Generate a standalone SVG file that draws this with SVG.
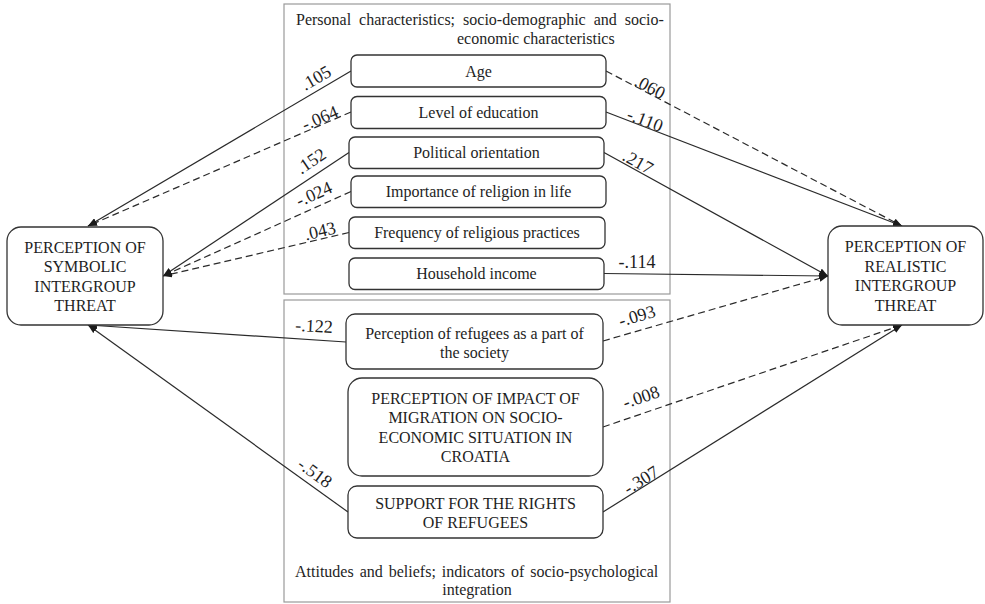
<svg xmlns="http://www.w3.org/2000/svg" width="985" height="604" viewBox="0 0 985 604">
<style>
text{font-family:"Liberation Serif","Times New Roman",serif;fill:#1e1e1e}
.t{font-size:16px;text-anchor:middle}
.h{font-size:16px}
.lb{font-size:18px;text-anchor:middle}
.box{fill:#fff;stroke:#333;stroke-width:1.3}
.cont{fill:#fff;stroke:#9a9a9a;stroke-width:1.2}
.c{fill:none;stroke:#2a2a2a;stroke-width:1.2;marker-end:url(#ah)}
.d{stroke-dasharray:7 4}
</style>
<defs>
<marker id="ah" markerUnits="userSpaceOnUse" markerWidth="9" markerHeight="7" refX="9" refY="3.5" orient="auto">
<path d="M0,0 L9,3.5 L0,7 z" fill="#1a1a1a"/>
</marker>
</defs>
<rect width="985" height="604" fill="#fff"/>

<g id="group-personal">
<rect class="cont" x="284" y="4" width="386" height="290"/>
<text class="h" x="296" y="25" word-spacing="4">Personal characteristics; socio-demographic and socio-</text>
<text class="h" x="457" y="44">economic characteristics</text>
</g>
<g id="group-attitudes">
<rect class="cont" x="284" y="300" width="386" height="302"/>
<text class="h" x="295" y="577" word-spacing="2">Attitudes and beliefs; indicators of socio-psychological</text>
<text class="t" x="477" y="595">integration</text>
</g>

<g id="connectors">
<line class="c" x1="351" y1="71" x2="88" y2="226"/>
<line class="c d" x1="351" y1="112" x2="88" y2="226"/>
<line class="c" x1="349" y1="152.5" x2="163" y2="276"/>
<line class="c d" x1="351" y1="191.5" x2="163" y2="276"/>
<line class="c d" x1="349" y1="232.5" x2="163" y2="276"/>
<line class="c" x1="346" y1="342" x2="88" y2="325"/>
<line class="c" x1="348" y1="512" x2="88" y2="325"/>
<line class="c d" x1="606" y1="71" x2="902" y2="226"/>
<line class="c" x1="606" y1="112" x2="902" y2="226"/>
<line class="c" x1="604" y1="152.5" x2="828" y2="276"/>
<line class="c" x1="604" y1="273.5" x2="828" y2="276"/>
<line class="c d" x1="603" y1="341" x2="828" y2="276"/>
<line class="c d" x1="603" y1="427" x2="902" y2="325"/>
<line class="c" x1="603" y1="512" x2="902" y2="325"/>
<g id="labels">
<text class="lb" transform="translate(316,78) rotate(-30)" dy="6">.105</text>
<text class="lb" transform="translate(320,118) rotate(-23)" dy="6">-.064</text>
<text class="lb" transform="translate(311,161) rotate(-34)" dy="6">.152</text>
<text class="lb" transform="translate(314,194) rotate(-24)" dy="6">-.024</text>
<text class="lb" transform="translate(320,231) rotate(-13)" dy="6">.043</text>
<text class="lb" transform="translate(314,326) rotate(3)" dy="6">-.122</text>
<text class="lb" transform="translate(315,473) rotate(36)" dy="6">-.518</text>
<text class="lb" transform="translate(650,87) rotate(28)" dy="6">.060</text>
<text class="lb" transform="translate(645,120) rotate(21)" dy="6">-.110</text>
<text class="lb" transform="translate(638,162) rotate(29)" dy="6">.217</text>
<text class="lb" transform="translate(637,262)" dy="6">-.114</text>
<text class="lb" transform="translate(637,316) rotate(-16)" dy="6">-.093</text>
<text class="lb" transform="translate(641,397) rotate(-19)" dy="6">-.008</text>
<text class="lb" transform="translate(641,480) rotate(-32)" dy="6">-.307</text>
</g>
</g>

<g id="node-age"><rect class="box" x="351" y="55" width="255" height="32" rx="6"/><text class="t" x="478.5" y="76.5">Age</text></g>
<g id="node-education"><rect class="box" x="351" y="96.5" width="255" height="32" rx="6"/><text class="t" x="478.5" y="118">Level of education</text></g>
<g id="node-political"><rect class="box" x="349" y="137" width="255" height="31.5" rx="6"/><text class="t" x="476.5" y="158">Political orientation</text></g>
<g id="node-religion-importance"><rect class="box" x="351" y="176" width="255" height="31.5" rx="6"/><text class="t" x="478.5" y="197">Importance of religion in life</text></g>
<g id="node-religion-frequency"><rect class="box" x="349" y="217" width="256" height="31.5" rx="6"/><text class="t" x="477" y="238">Frequency of religious practices</text></g>
<g id="node-income"><rect class="box" x="349" y="258" width="255" height="31.5" rx="6"/><text class="t" x="476.5" y="279">Household income</text></g>

<g id="node-refugees-society"><rect class="box" x="346" y="314" width="257" height="55" rx="9"/>
<text class="t" x="474.5" y="338.5">Perception of refugees as a part of</text>
<text class="t" x="474.5" y="358">the society</text></g>
<g id="node-impact"><rect class="box" x="348" y="378" width="255" height="98" rx="14"/>
<text class="t" x="475.5" y="403.5">PERCEPTION OF IMPACT OF</text>
<text class="t" x="475.5" y="423">MIGRATION ON SOCIO-</text>
<text class="t" x="475.5" y="442.5">ECONOMIC SITUATION IN</text>
<text class="t" x="475.5" y="462">CROATIA</text></g>
<g id="node-support"><rect class="box" x="348" y="486" width="255" height="52" rx="9"/>
<text class="t" x="475.5" y="508.5">SUPPORT FOR THE RIGHTS</text>
<text class="t" x="475.5" y="528">OF REFUGEES</text></g>

<g id="node-symbolic"><rect class="box" x="7" y="227" width="156" height="98" rx="14"/>
<text class="t" x="85" y="252.5">PERCEPTION OF</text>
<text class="t" x="85" y="272">SYMBOLIC</text>
<text class="t" x="85" y="291.5">INTERGROUP</text>
<text class="t" x="85" y="311">THREAT</text></g>
<g id="node-realistic"><rect class="box" x="828" y="226" width="155" height="99" rx="14"/>
<text class="t" x="905.5" y="252">PERCEPTION OF</text>
<text class="t" x="905.5" y="271.5">REALISTIC</text>
<text class="t" x="905.5" y="291">INTERGROUP</text>
<text class="t" x="905.5" y="310.5">THREAT</text></g>
</svg>
